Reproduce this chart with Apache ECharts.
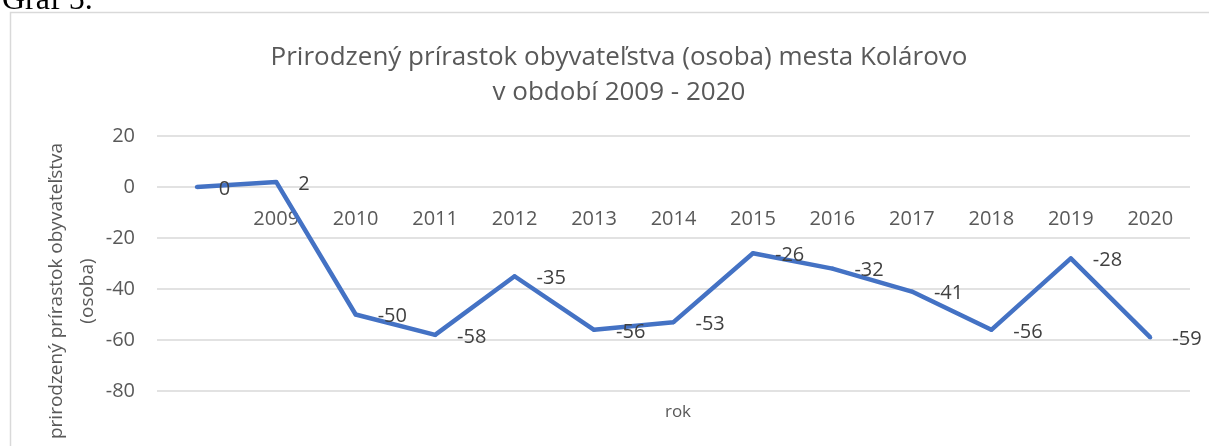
<!DOCTYPE html>
<html>
<head>
<meta charset="utf-8">
<script src="https://cdn.jsdelivr.net/npm/echarts@6/dist/echarts.min.js"></script>
<style>
  html, body { margin: 0; padding: 0; background: #fff; }
  #chart { width: 1209px; height: 446px; }
</style>
</head>
<body>
<div id="chart"></div>
<script>
const years = ['', '2009', '2010', '2011', '2012', '2013', '2014', '2015', '2016', '2017', '2018', '2019', '2020']
const growth = [0, 2, -50, -58, -35, -56, -53, -26, -32, -41, -56, -28, -59]
const yTicks = { min: -80, max: 20, step: 20 }

const font = 'Open Sans'
const chart = echarts.init(document.getElementById('chart'))

// the year labels sit just under the zero line, like excel's crossing axis
const labelMargin = -(391 - 209)

const option = {
  backgroundColor: '#fff',
  animation: false,
  title: [
    {
      text: 'Prirodzený prírastok obyvateľstva (osoba) mesta Kolárovo\nv období 2009 - 2020',
      left: 614,
      top: 35,
      textAlign: 'center',
      textStyle: { fontFamily: font, fontSize: 26, fontWeight: 'normal', color: '#595959', lineHeight: 35 }
    },
    {
      text: 'rok',
      left: 673,
      top: 399,
      textAlign: 'center',
      textStyle: { fontFamily: font, fontSize: 17, fontWeight: 'normal', color: '#595959' }
    }
  ],
  graphic: [
    {
      type: 'rect',
      shape: { x: 10.5, y: 12.5, width: 1400, height: 600 },
      style: { fill: 'none', stroke: '#d9d9d9', lineWidth: 1.5 },
      silent: true
    },
    {
      type: 'text',
      x: 2,
      y: 17,
      style: { text: 'Graf 5.', fontFamily: 'Liberation Serif', fontSize: 32, fill: '#000', verticalAlign: 'bottom' }
    },
    {
      type: 'text',
      x: 72,
      y: 291,
      rotation: Math.PI / 2,
      style: {
        text: 'prirodzený prírastok obyvateľstva\n(osoba)',
        fontFamily: font,
        fontSize: 19,
        lineHeight: 31,
        fill: '#595959',
        align: 'center',
        verticalAlign: 'middle'
      }
    }
  ],
  grid: { left: 157, right: 19, top: 136, bottom: 55 },
  xAxis: {
    type: 'category',
    data: years,
    boundaryGap: true,
    axisLine: { show: false },
    axisTick: { show: false },
    axisLabel: { interval: 0, margin: labelMargin, fontFamily: font, fontSize: 20, color: '#595959' }
  },
  yAxis: {
    type: 'value',
    min: yTicks.min,
    max: yTicks.max,
    interval: yTicks.step,
    axisLine: { show: false },
    axisTick: { show: false },
    axisLabel: { margin: 22, fontFamily: font, fontSize: 20, color: '#595959' },
    splitLine: { lineStyle: { color: '#d9d9d9', width: 1.5 } }
  },
  series: [
    {
      type: 'line',
      data: growth,
      showSymbol: true,
      symbol: 'circle',
      symbolSize: 4,
      itemStyle: { color: '#4472C4' },
      lineStyle: { color: '#4472C4', width: 4.5, join: 'round' },
      label: {
        show: true,
        position: 'right',
        distance: 20,
        offset: [0, 2],
        fontFamily: font,
        fontSize: 20,
        color: '#404040'
      }
    }
  ]
}

chart.setOption(option)
</script>
</body>
</html>
